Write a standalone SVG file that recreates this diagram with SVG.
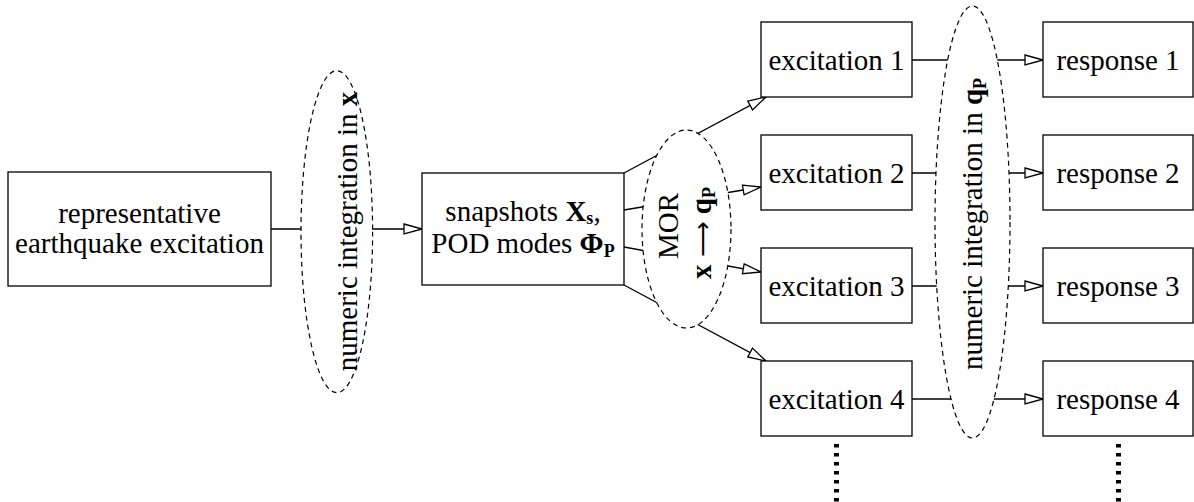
<svg xmlns="http://www.w3.org/2000/svg" width="1194" height="502" viewBox="0 0 1194 502">
<style>
.box{fill:#fff;stroke:#000;stroke-width:1.3}
.ell{fill:#fff;stroke:#000;stroke-width:1.2;stroke-dasharray:5 4}
.ln{fill:none;stroke:#000;stroke-width:1.3}
.dots{fill:none;stroke:#000;stroke-width:5;stroke-dasharray:3.5 5.5}
.t{font-family:"Liberation Serif","Times New Roman",serif;font-size:29px;fill:#000;text-anchor:middle}
.b{font-weight:bold}
.sub{font-weight:bold;font-size:18px}
</style>
<defs>
<marker id="ah" markerUnits="userSpaceOnUse" viewBox="-1 -1 20 12" refX="18" refY="5" markerWidth="20" markerHeight="12" orient="auto">
<path d="M0,0 L18,5 L0,10 Z" fill="#fff" stroke="#000" stroke-width="1.3"/>
</marker>
</defs>
<g id="connectors">
<path class="ln" d="M271,229 L422,229" marker-end="url(#ah)"/>
<path class="ln" d="M624,173 L766,97" marker-end="url(#ah)"/>
<path class="ln" d="M624,210 L761,187" marker-end="url(#ah)"/>
<path class="ln" d="M624,247 L761,272" marker-end="url(#ah)"/>
<path class="ln" d="M624,285 L766,361" marker-end="url(#ah)"/>
<path class="ln" d="M912,60 L1043,60" marker-end="url(#ah)"/>
<path class="ln" d="M912,173 L1043,173" marker-end="url(#ah)"/>
<path class="ln" d="M912,286 L1043,286" marker-end="url(#ah)"/>
<path class="ln" d="M912,399 L1043,399" marker-end="url(#ah)"/>
<path class="dots" d="M836.5,444 L836.5,502"/>
<path class="dots" d="M1118.5,444 L1118.5,502"/>
</g>
<g id="input">
<rect class="box" x="8" y="172" width="263" height="114"/>
<text class="t" x="139.5" y="222.5">representative</text>
<text class="t" x="139.5" y="252.5">earthquake excitation</text>
</g>
<g id="integration-x">
<ellipse class="ell" cx="336.8" cy="231.7" rx="35.8" ry="161"/>
<text class="t" transform="translate(357,231.5) rotate(-90)">numeric integration in <tspan class="b">x</tspan></text>
</g>
<g id="snapshots">
<rect class="box" x="422" y="173" width="202" height="112"/>
<text class="t" x="523" y="221">snapshots <tspan class="b">X</tspan><tspan class="sub" dy="3">s</tspan><tspan dy="-3">,</tspan></text>
<text class="t" x="523" y="252.5">POD modes <tspan class="b">Φ</tspan><tspan class="sub" dy="4">P</tspan></text>
</g>
<g id="mor">
<ellipse class="ell" cx="686.5" cy="229" rx="44.5" ry="99"/>
<text class="t" transform="translate(678,226) rotate(-90)">MOR</text>
<text class="t" transform="translate(711,233) rotate(-90)"><tspan class="b">x</tspan> <tspan font-family="DejaVu Sans, sans-serif" font-size="25">⟶</tspan> <tspan class="b">q</tspan><tspan class="sub" dy="4">P</tspan></text>
</g>
<g id="excitation-1">
<rect class="box" x="761" y="22" width="151" height="75"/>
<text class="t" x="836.5" y="70">excitation 1</text>
</g>
<g id="excitation-2">
<rect class="box" x="761" y="135" width="151" height="75"/>
<text class="t" x="836.5" y="183">excitation 2</text>
</g>
<g id="excitation-3">
<rect class="box" x="761" y="248" width="151" height="75"/>
<text class="t" x="836.5" y="296">excitation 3</text>
</g>
<g id="excitation-4">
<rect class="box" x="761" y="361" width="151" height="75"/>
<text class="t" x="836.5" y="409">excitation 4</text>
</g>
<g id="integration-q">
<ellipse class="ell" cx="972.5" cy="222" rx="37.5" ry="216"/>
<text class="t" transform="translate(982,224) rotate(-90)">numeric integration in <tspan class="b">q</tspan><tspan class="sub" dy="4">P</tspan></text>
</g>
<g id="response-1">
<rect class="box" x="1043" y="22" width="150" height="75"/>
<text class="t" x="1118" y="70">response 1</text>
</g>
<g id="response-2">
<rect class="box" x="1043" y="135" width="150" height="75"/>
<text class="t" x="1118" y="183">response 2</text>
</g>
<g id="response-3">
<rect class="box" x="1043" y="248" width="150" height="75"/>
<text class="t" x="1118" y="296">response 3</text>
</g>
<g id="response-4">
<rect class="box" x="1043" y="361" width="150" height="75"/>
<text class="t" x="1118" y="409">response 4</text>
</g>
</svg>
